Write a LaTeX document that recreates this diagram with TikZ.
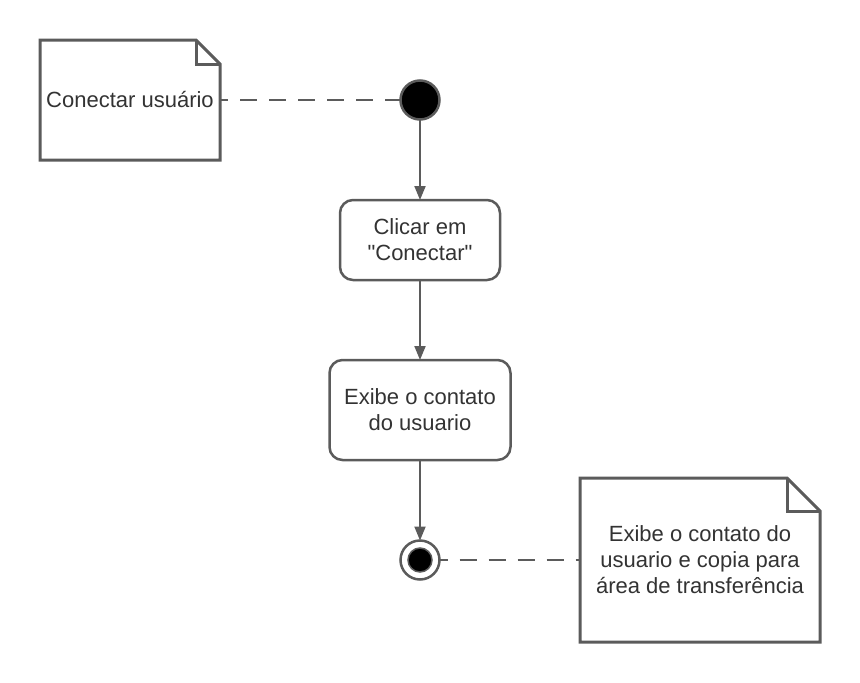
\documentclass[tikz,border=0pt]{standalone}
\usepackage{fontspec}
\setmainfont{Liberation Sans}[Ligatures=TeXOff]
\usetikzlibrary{arrows.meta}
\definecolor{umlGray}{HTML}{5B5B5B}
\definecolor{umlText}{HTML}{333333}
\tikzset{
  action/.style={rectangle, rounded corners=13pt, draw=umlGray, line width=2.5pt, fill=white, align=center, text=umlText, outer sep=0pt},
  note/.style={rectangle, fill=white, align=center, text=umlText, outer sep=0pt},
  noteLine/.style={draw=umlGray, line width=3pt},
  initial/.style={circle, fill=black, draw=umlGray, line width=2.5pt, minimum size=39pt, inner sep=0pt, outer sep=0pt},
  final/.style={circle, draw=umlGray, line width=2.5pt, fill=white, minimum size=39pt, inner sep=0pt, outer sep=0pt},
  finalDot/.style={circle, fill=black, draw=umlGray, line width=1.5pt, minimum size=24pt, inner sep=0pt},
  flow/.style={draw=umlGray, line width=2pt, -{Triangle[length=14pt,width=11pt]}},
  link/.style={draw=umlGray, line width=2.5pt, dash pattern=on 17pt off 12pt, dash phase=9pt}
}

\begin{document}
\begin{tikzpicture}[x=1pt, y=-1pt, font=\fontsize{22}{26}\selectfont]
  \useasboundingbox (0,0) rectangle (860,683);

  % notes
  \node [note, minimum width=180pt, minimum height=120pt] (noteConnect) at (130,100) {Conectar usuário};
  \draw [noteLine] (noteConnect.south west) |- ([xshift=-24pt]noteConnect.north east)
    -- ([yshift=-24pt]noteConnect.north east) -- (noteConnect.south east) -- cycle;
  \draw [noteLine] ([xshift=-24pt]noteConnect.north east) |- ([yshift=-24pt]noteConnect.north east);

  \node [note, minimum width=240pt, minimum height=164pt] (noteCopy) at (700,560)
    {Exibe o contato do\\usuario e copia para\\área de transferência};
  \draw [noteLine] (noteCopy.south west) |- ([xshift=-33pt]noteCopy.north east)
    -- ([yshift=-33pt]noteCopy.north east) -- (noteCopy.south east) -- cycle;
  \draw [noteLine] ([xshift=-33pt]noteCopy.north east) |- ([yshift=-33pt]noteCopy.north east);

  % activity flow
  \node [initial] (start) at (420,100) {};
  \node [action, minimum width=160pt, minimum height=80pt] (clickConnect) at (420,240) {Clicar em\\"Conectar"};
  \node [action, minimum width=181pt, minimum height=100pt] (showContact) at (420,410) {Exibe o contato\\do usuario};
  \node [final] (end) at (420,560) {};
  \node [finalDot] (endDot) at (end) {};

  \draw [flow] (start) -- (clickConnect);
  \draw [flow] (clickConnect) -- (showContact);
  \draw [flow] (showContact) -- (end);

  \draw [link] (noteConnect.east) -- (start.west);
  \draw [link] (end.east) -- (noteCopy.west);
\end{tikzpicture}
\end{document}
